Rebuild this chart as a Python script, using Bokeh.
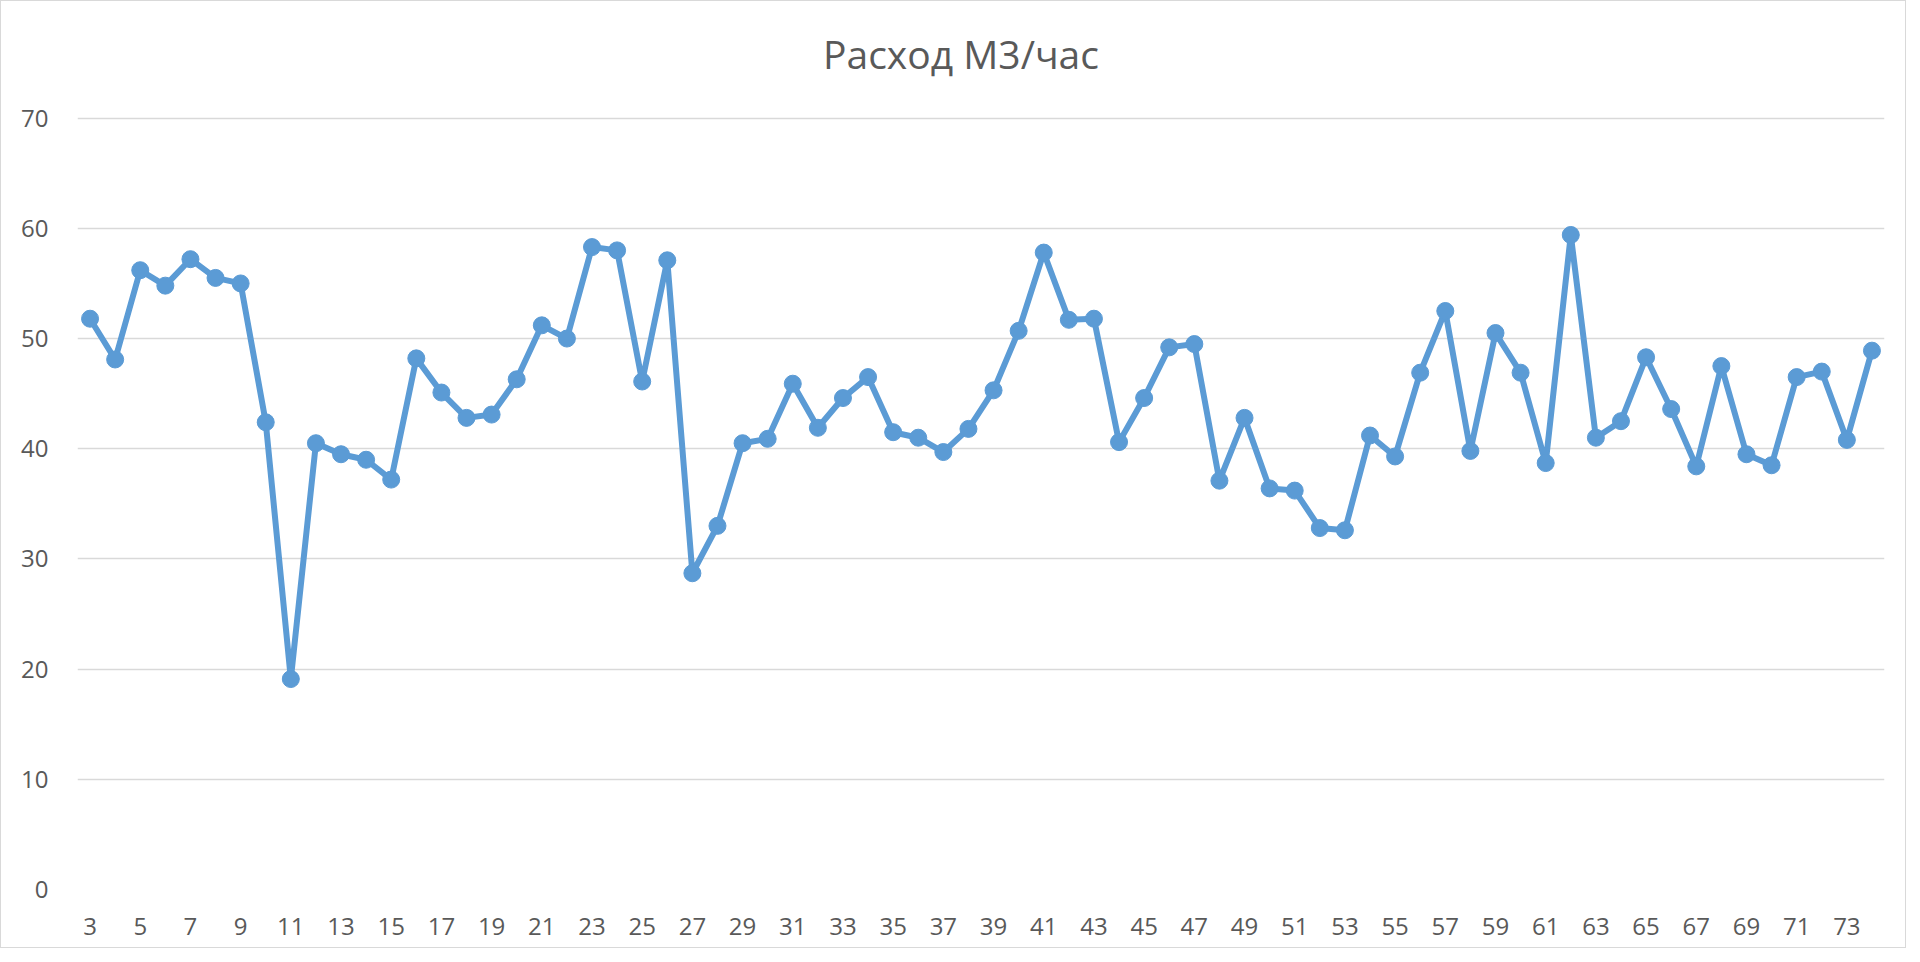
from bokeh.plotting import figure
from bokeh.embed import file_html
from bokeh.resources import INLINE
from bokeh.models import FixedTicker, Range1d, Div
from bokeh.layouts import column

# Data
hours = list(range(3, 75))
flow = [
    51.8, 48.1, 56.2, 54.8, 57.2, 55.5, 55.0, 42.4, 19.1, 40.5,
    39.5, 39.0, 37.2, 48.2, 45.1, 42.8, 43.1, 46.3, 51.2, 50.0,
    58.3, 58.0, 46.1, 57.1, 28.7, 33.0, 40.5, 40.9, 45.9, 41.9,
    44.6, 46.5, 41.5, 41.0, 39.7, 41.8, 45.3, 50.7, 57.8, 51.7,
    51.8, 40.6, 44.6, 49.2, 49.5, 37.1, 42.8, 36.4, 36.2, 32.8,
    32.6, 41.2, 39.3, 46.9, 52.5, 39.8, 50.5, 46.9, 38.7, 59.4,
    41.0, 42.5, 48.3, 43.6, 38.4, 47.5, 39.5, 38.5, 46.5, 47.0,
    40.8, 48.9,
]
x_ticks = hours[::2][:36]
y_ticks = [0, 10, 20, 30, 40, 50, 60, 70]
title_text = "Расход М3/час"

BLUE = "#5b9bd5"
GREY = "#595959"

TITLE_H = 80
title = Div(
    text=title_text, width=1904, height=TITLE_H, margin=0,
    styles={
        "text-align": "center", "font-family": "Open Sans",
        "font-size": "39px", "color": GREY,
        "line-height": "55px", "padding-top": "25px", "padding-left": "16px",
        "box-sizing": "border-box", "background": "white",
    },
)

p = figure(
    width=1904, height=946 - TITLE_H, margin=0,
    output_backend="svg", toolbar_location=None,
    x_range=Range1d(hours[0] - 0.5, hours[-1] + 0.5),
    y_range=Range1d(0, 70.15),
    min_border_left=76, min_border_right=21,
    min_border_top=35, min_border_bottom=58,
)
p.outline_line_color = None
p.background_fill_color = "white"
p.border_fill_color = "white"

p.line(hours, flow, line_color=BLUE, line_width=6, line_join="round")
p.scatter(hours, flow, size=17, fill_color=BLUE, line_color=BLUE)

p.xgrid.grid_line_color = None
p.ygrid.grid_line_color = "#d9d9d9"
p.ygrid.grid_line_width = 1.5

p.xaxis.ticker = FixedTicker(ticks=x_ticks)
p.yaxis.ticker = FixedTicker(ticks=y_ticks)
for ax in (p.xaxis[0], p.yaxis[0]):
    ax.axis_line_color = None
    ax.major_tick_line_color = None
    ax.minor_tick_line_color = None
    ax.major_tick_in = 0
    ax.major_tick_out = 0
    ax.major_label_text_font = "Open Sans"
    ax.major_label_text_font_size = "24px"
    ax.major_label_text_color = GREY
p.xaxis.major_label_standoff = 28
p.yaxis.major_label_standoff = 29

layout = column(title, p, spacing=0, margin=0)
layout.styles = {"border": "1px solid #d9d9d9", "background": "white"}

open("out.html", "w").write(file_html(layout, INLINE))
